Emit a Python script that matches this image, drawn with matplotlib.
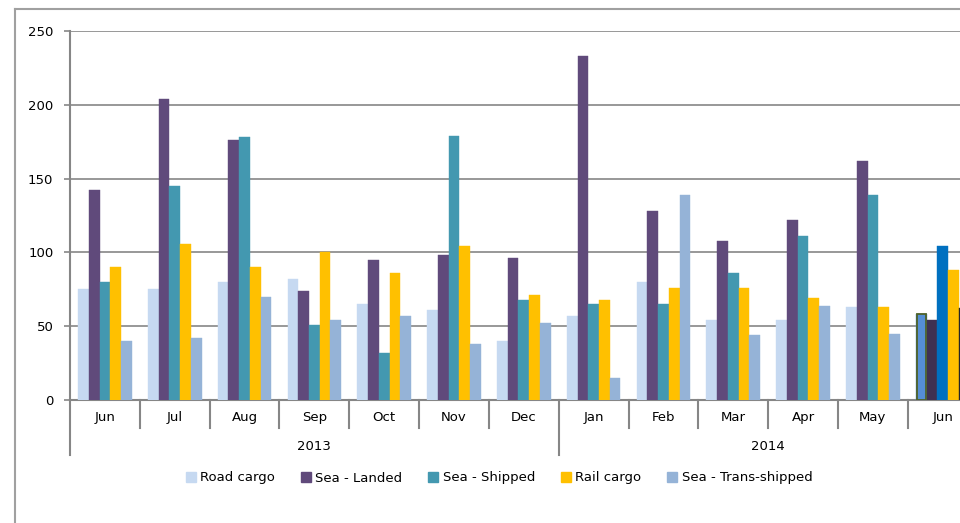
import matplotlib
matplotlib.use("Agg")
import matplotlib.pyplot as plt
from matplotlib.lines import Line2D
from matplotlib.patches import Patch
import numpy as np

matplotlib.rcParams['font.family'] = ['DejaVu Sans']
matplotlib.rcParams['font.size'] = 9

# data (Jun 2013 .. Jun 2014)
months = ['Jun', 'Jul', 'Aug', 'Sep', 'Oct', 'Nov', 'Dec',
          'Jan', 'Feb', 'Mar', 'Apr', 'May', 'Jun']
years = ['2013', '2014']
year_len = [7, 6]
road = [75, 75, 80, 82, 65, 61, 40, 57, 80, 54, 54, 63, 58]
landed = [142, 204, 176, 74, 95, 98, 96, 233, 128, 108, 122, 162, 54]
shipped = [80, 145, 178, 51, 32, 179, 68, 65, 65, 86, 111, 139, 104]
rail = [90, 106, 90, 100, 86, 104, 71, 68, 76, 76, 69, 63, 88]
trans = [40, 42, 70, 54, 57, 38, 52, 15, 139, 44, 64, 45, 62]

series = [('Road cargo', road, '#C6D9F1', '#558ED5'),
          ('Sea - Landed', landed, '#604A7B', '#3F3151'),
          ('Sea - Shipped', shipped, '#4398B0', '#0070C0'),
          ('Rail cargo', rail, '#FFC000', '#FFC000'),
          ('Sea - Trans-shipped', trans, '#95B3D7', '#262626')]

grey = '#868686'
fs = 9.5
fig = plt.figure(figsize=(9.6, 5.23), dpi=100)
W, H = 960, 523
# axes runs past the right edge of the picture, like the reference crop
ax = fig.add_axes([70 / W, 123 / H, 907.6 / W, 369 / H])

n = len(months)
x = np.arange(n)
w = 1 / 6.5
for k, (name, vals, col, last) in enumerate(series):
    cols = [col] * (n - 1) + [last]
    ax.bar(x + (k - 2) * w, vals, w, color=cols, edgecolor=cols, linewidth=0.3, zorder=3)
# highlighted last road bar outline
ax.bar(x[-1] - 2 * w, road[-1], w * 0.85, color='none', edgecolor='#4F6228', linewidth=1.3, zorder=4)

ax.set_xlim(-0.5, n - 0.5)
ax.set_ylim(0, 250)
ax.set_yticks(range(0, 251, 50))
ax.yaxis.grid(True, color=grey, linewidth=1.2, zorder=0)
ax.set_axisbelow(True)
for s in ['top', 'right']:
    ax.spines[s].set_visible(False)
for s in ['left', 'bottom']:
    ax.spines[s].set_color(grey)
    ax.spines[s].set_linewidth(1.5)
ax.tick_params(axis='y', length=4, width=1.2, color=grey, pad=8, labelsize=fs)
ax.set_xticks(x)
ax.set_xticklabels(months, fontsize=fs)
ax.tick_params(axis='x', length=0, pad=8)

tr = ax.get_xaxis_transform()
ax_h = 369.0
bounds_year = [-0.5]
for L in year_len:
    bounds_year.append(bounds_year[-1] + L)
for b in np.arange(-0.5, n, 1.0):
    long_line = b in bounds_year
    y_end = -55 / ax_h if long_line else -28 / ax_h
    ax.add_line(Line2D([b, b], [0, y_end], transform=tr, color=grey,
                       linewidth=1.5, clip_on=False))
for i, yr in enumerate(years):
    xc = (bounds_year[i] + bounds_year[i + 1]) / 2
    ax.text(xc, -46 / ax_h, yr, transform=tr, ha='center', va='center', fontsize=fs)

handles = [Patch(facecolor=c, edgecolor=c) for _, _, c, _ in series]
fig.legend(handles, [s[0] for s in series], loc='center', bbox_to_anchor=(0.52, 1 - 478 / H),
           ncol=5, frameon=False, fontsize=fs, handlelength=0.75, handleheight=0.75,
           handletextpad=0.35, columnspacing=1.95)

# outer chart border (left and top edges visible)
fig.add_artist(Line2D([15 / W, 15 / W], [0, 1 - 9 / H], color='#A0A0A0', linewidth=1.5))
fig.add_artist(Line2D([15 / W, 1], [1 - 9 / H, 1 - 9 / H], color='#A0A0A0', linewidth=1.5))

fig.savefig('out.png', dpi=100)
